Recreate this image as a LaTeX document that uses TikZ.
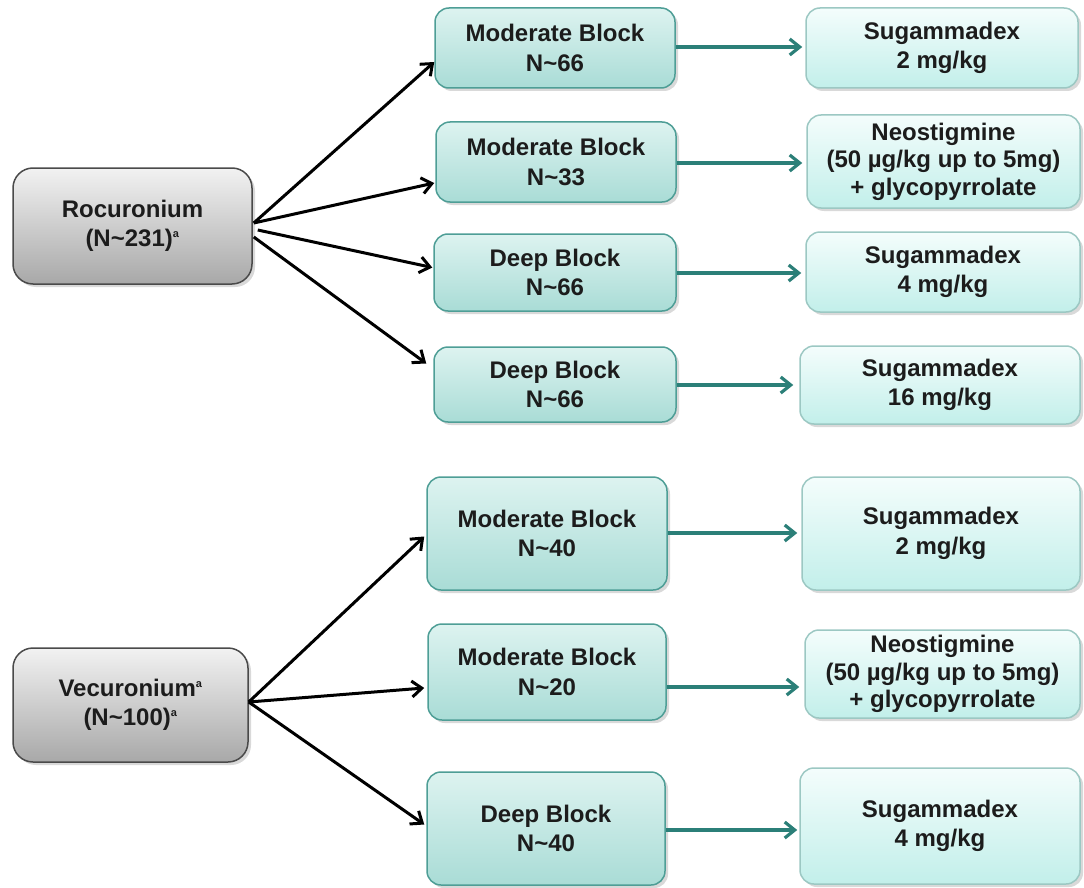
\documentclass[tikz,border=0pt]{standalone}
\usepackage{fontspec}
\setmainfont{Liberation Sans}
\usetikzlibrary{arrows.meta,shadows,calc}
\definecolor{txt}{HTML}{1C1C1C}
\definecolor{gborder}{HTML}{4A4A4A}
\definecolor{gtop}{HTML}{F2F2F2}
\definecolor{gbot}{HTML}{A8A8A8}
\definecolor{mborder}{HTML}{4E9E96}
\definecolor{mtop}{HTML}{DDF3F0}
\definecolor{mbot}{HTML}{A9DCD6}
\definecolor{rborder}{HTML}{9CC8C3}
\definecolor{rtop}{HTML}{F4FDFC}
\definecolor{rbot}{HTML}{C2EFEA}
\definecolor{tealarrow}{HTML}{2B7F78}
\newcommand{\sa}{\textsuperscript{\fontsize{11}{11}\selectfont a}}
\begin{document}
\begin{tikzpicture}[x=1pt,y=-1pt,
  nbox/.style={rounded corners=14pt, line width=1.5pt, align=center,
    font=\bfseries\fontsize{24}{29.5}\selectfont, text=txt, inner sep=0pt,
    drop shadow={shadow xshift=3pt, shadow yshift=-3pt, opacity=0.3, fill=gray}},
  gbox/.style={nbox, draw=gborder, top color=gtop, bottom color=gbot, rounded corners=20pt},
  mbox/.style={nbox, draw=mborder, top color=mtop, bottom color=mbot},
  rbox/.style={nbox, draw=rborder, top color=rtop, bottom color=rbot},
  blk/.style={-{Straight Barb[length=10pt,width=16pt,line width=3pt]}, line width=3pt, black},
  tl/.style={-{Straight Barb[length=10pt,width=16pt,line width=3.2pt]}, line width=3.4pt, tealarrow}]
\useasboundingbox (0,0) rectangle (1084,888);
% left
\node[gbox, minimum width=239pt, minimum height=116pt] (roc) at (132.5,226) {Rocuronium\\(N\textasciitilde 231)\sa};
\node[gbox, minimum width=235pt, minimum height=114pt] (vec) at (130.5,705) {Vecuronium\sa\\(N\textasciitilde 100)\sa};
% middle
\node[mbox, minimum width=240pt, minimum height=80pt] (m1) at (555,48) {Moderate Block\\N\textasciitilde 66};
\node[mbox, minimum width=240pt, minimum height=80pt] (m2) at (556,162) {Moderate Block\\N\textasciitilde 33};
\node[mbox, minimum width=242pt, minimum height=77pt] (m3) at (555,272.5) {Deep Block\\N\textasciitilde 66};
\node[mbox, minimum width=242pt, minimum height=75pt] (m4) at (555,384.5) {Deep Block\\N\textasciitilde 66};
\node[mbox, minimum width=240pt, minimum height=113pt] (m5) at (547,533.5) {Moderate Block\\N\textasciitilde 40};
\node[mbox, minimum width=238pt, minimum height=96pt] (m6) at (547,672) {Moderate Block\\N\textasciitilde 20};
\node[mbox, minimum width=238pt, minimum height=113pt] (m7) at (546,828.5) {Deep Block\\N\textasciitilde 40};
% right
\node[rbox, minimum width=272pt, minimum height=80pt] (r1) at (942,48) {Sugammadex\\2 mg/kg};
\node[rbox, minimum width=273pt, minimum height=93pt, font=\bfseries\fontsize{24}{27.5}\selectfont] (r2) at (943.5,161.5) {Neostigmine\\(50 µg/kg up to 5mg)\\+ glycopyrrolate};
\node[rbox, minimum width=274pt, minimum height=80pt] (r3) at (943,272) {Sugammadex\\4 mg/kg};
\node[rbox, minimum width=280pt, minimum height=78pt] (r4) at (940,385) {Sugammadex\\16 mg/kg};
\node[rbox, minimum width=278pt, minimum height=113pt] (r5) at (941,533.5) {Sugammadex\\2 mg/kg};
\node[rbox, minimum width=275pt, minimum height=88pt, font=\bfseries\fontsize{24}{27.5}\selectfont] (r6) at (942.5,674) {Neostigmine\\(50 µg/kg up to 5mg)\\+ glycopyrrolate};
\node[rbox, minimum width=280pt, minimum height=116pt] (r7) at (940,826) {Sugammadex\\4 mg/kg};
% black arrows
\draw[blk] ($(roc.east)+(1,-3)$) -- ($(m1.west)+(0,14)$);
\draw[blk] ($(roc.east)+(1,-3)$) -- ($(m2.west)+(-1,21)$);
\draw[blk] ($(roc.east)+(5,4)$) -- ($(m3.west)+(-1,-5)$);
\draw[blk] ($(roc.east)+(1,11)$) -- ($(m4.west)+(-7,-21)$);
\draw[blk] ($(vec.east)+(0,-3)$) -- ($(m5.west)+(-2,3)$);
\draw[blk] ($(vec.east)+(0,-3)$) -- ($(m6.west)+(-3,16)$);
\draw[blk] ($(vec.east)+(0,-3)$) -- ($(m7.west)+(-2,-4)$);
% teal arrows
\draw[tl] ($(m1.east)+(0,-1)$) -- ($(r1.west)+(-3,-1)$);
\draw[tl] ($(m2.east)+(0,1)$) -- ($(r2.west)+(-4,1.5)$);
\draw[tl] ($(m3.east)+(0,0.5)$) -- ($(r3.west)+(-4,1)$);
\draw[tl] ($(m4.east)+(0,0.5)$) -- ($(r4.west)+(-6,0)$);
\draw[tl] ($(m5.east)+(0,-0.5)$) -- ($(r5.west)+(-4,-0.5)$);
\draw[tl] ($(m6.east)+(0,15)$) -- ($(r6.west)+(-5,13)$);
\draw[tl] ($(m7.east)+(0,1.5)$) -- ($(r7.west)+(-2,4)$);
\end{tikzpicture}
\end{document}
